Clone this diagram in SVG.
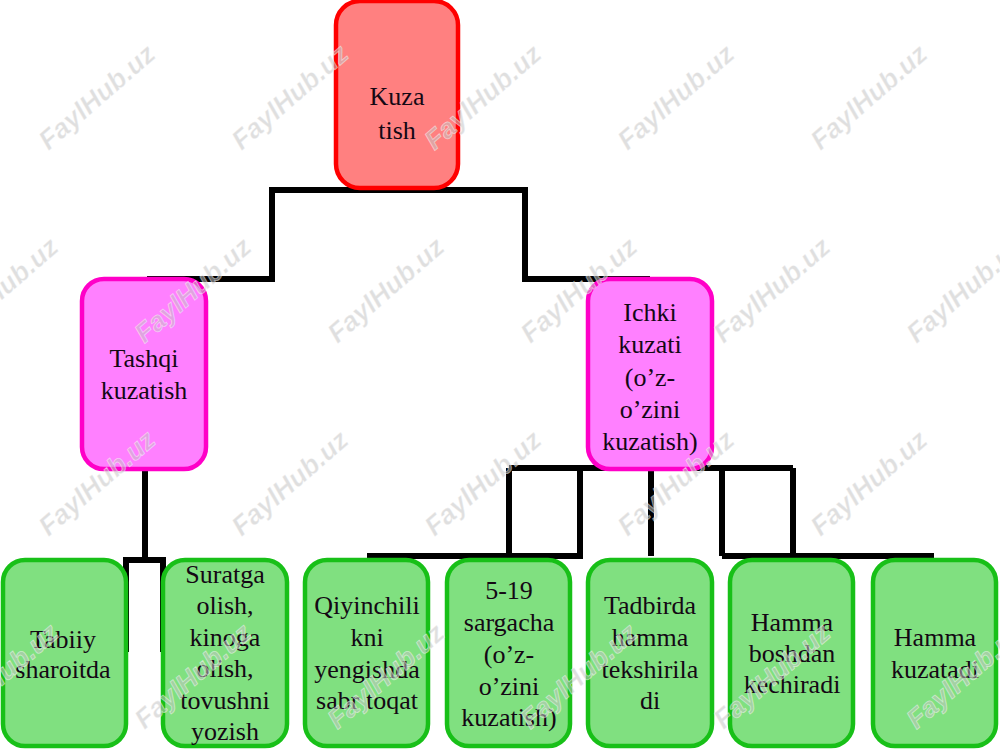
<svg xmlns="http://www.w3.org/2000/svg" width="1000" height="750" viewBox="0 0 1000 750">
<style>
.node rect{stroke-width:4.5}
.red rect{fill:#ff8080;stroke:#ff0000}
.pink rect{fill:#ff80ff;stroke:#ff00c8}
.green rect{fill:#80e080;stroke:#18c018}
.node text{font-family:"Liberation Serif","Times New Roman",serif;font-size:26px;fill:#140814;text-anchor:middle}
.conn path{fill:none;stroke:#000;stroke-width:6;stroke-linejoin:miter;stroke-linecap:butt}
.wm text{font-family:"Liberation Sans",Arial,sans-serif;font-weight:bold;font-style:italic;font-size:27px;fill:#c4c4c4;fill-opacity:0.55;stroke:#ffffff;stroke-opacity:0.5;stroke-width:0.8;text-anchor:middle;dominant-baseline:central}
</style>
<rect width="1000" height="750" fill="#ffffff"/>
<g id="connectors" class="conn">
<path d="M147,279 H272 V190 H525 V279 H650"/>
<path d="M145,470 V560"/>
<path d="M126,652 V560 H163 V652"/>
<path d="M509,468 H793"/>
<path d="M509,468 V556"/>
<path d="M580,468 V556"/>
<path d="M651,468 V556"/>
<path d="M722,468 V556"/>
<path d="M793,468 V556"/>
<path d="M367,556 H583"/>
<path d="M722,556 H934"/>
</g>
<g id="n-kuzatish" class="node red">
<rect x="336" y="1" width="122" height="187" rx="24"/>
<text x="397" y="105">Kuza</text>
<text x="397" y="139">tish</text>
</g>
<g id="n-tashqi" class="node pink">
<rect x="82" y="279" width="124" height="190" rx="22"/>
<text x="144" y="367">Tashqi</text>
<text x="144" y="399">kuzatish</text>
</g>
<g id="n-ichki" class="node pink">
<rect x="588" y="279" width="124" height="190" rx="22"/>
<text x="650" y="321">Ichki</text>
<text x="650" y="353">kuzati</text>
<text x="650" y="386">(o’z-</text>
<text x="650" y="418">o’zini</text>
<text x="650" y="450">kuzatish)</text>
</g>
<g id="n-tabiiy" class="node green">
<rect x="3" y="560" width="123" height="186" rx="22"/>
<text x="63" y="648">Tabiiy</text>
<text x="63" y="678">sharoitda</text>
</g>
<g id="n-suratga" class="node green">
<rect x="163" y="560" width="124" height="186" rx="22"/>
<text x="225" y="583">Suratga</text>
<text x="225" y="614">olish,</text>
<text x="225" y="646">kinoga</text>
<text x="225" y="677">olish,</text>
<text x="225" y="709">tovushni</text>
<text x="225" y="740">yozish</text>
</g>
<g id="n-qiyin" class="node green">
<rect x="305" y="560" width="123" height="186" rx="22"/>
<text x="367" y="614">Qiyinchili</text>
<text x="367" y="646">kni</text>
<text x="367" y="678">yengishda</text>
<text x="367" y="709">sabr toqat</text>
</g>
<g id="n-519" class="node green">
<rect x="447" y="560" width="123" height="186" rx="22"/>
<text x="509" y="599">5-19</text>
<text x="509" y="631">sargacha</text>
<text x="509" y="663">(o’z-</text>
<text x="509" y="695">o’zini</text>
<text x="509" y="726">kuzatish)</text>
</g>
<g id="n-tadbir" class="node green">
<rect x="588" y="560" width="124" height="186" rx="22"/>
<text x="650" y="614">Tadbirda</text>
<text x="650" y="646">hamma</text>
<text x="650" y="678">tekshirila</text>
<text x="650" y="709">di</text>
</g>
<g id="n-boshdan" class="node green">
<rect x="730" y="560" width="123" height="186" rx="22"/>
<text x="792" y="631">Hamma</text>
<text x="792" y="662">boshdan</text>
<text x="792" y="693">kechiradi</text>
</g>
<g id="n-kuzatadi" class="node green">
<rect x="873" y="560" width="123" height="186" rx="22"/>
<text x="935" y="646">Hamma</text>
<text x="935" y="678">kuzatadi</text>
</g>
<g id="watermarks" class="wm">
<text transform="translate(97,97) rotate(-41)">FaylHub.uz</text>
<text transform="translate(290,97) rotate(-41)">FaylHub.uz</text>
<text transform="translate(483,97) rotate(-41)">FaylHub.uz</text>
<text transform="translate(676,97) rotate(-41)">FaylHub.uz</text>
<text transform="translate(869,97) rotate(-41)">FaylHub.uz</text>
<text transform="translate(0,290) rotate(-41)">FaylHub.uz</text>
<text transform="translate(193,290) rotate(-41)">FaylHub.uz</text>
<text transform="translate(386,290) rotate(-41)">FaylHub.uz</text>
<text transform="translate(579,290) rotate(-41)">FaylHub.uz</text>
<text transform="translate(772,290) rotate(-41)">FaylHub.uz</text>
<text transform="translate(965,290) rotate(-41)">FaylHub.uz</text>
<text transform="translate(97,483) rotate(-41)">FaylHub.uz</text>
<text transform="translate(290,483) rotate(-41)">FaylHub.uz</text>
<text transform="translate(483,483) rotate(-41)">FaylHub.uz</text>
<text transform="translate(676,483) rotate(-41)">FaylHub.uz</text>
<text transform="translate(869,483) rotate(-41)">FaylHub.uz</text>
<text transform="translate(0,676) rotate(-41)">FaylHub.uz</text>
<text transform="translate(193,676) rotate(-41)">FaylHub.uz</text>
<text transform="translate(386,676) rotate(-41)">FaylHub.uz</text>
<text transform="translate(579,676) rotate(-41)">FaylHub.uz</text>
<text transform="translate(772,676) rotate(-41)">FaylHub.uz</text>
<text transform="translate(965,676) rotate(-41)">FaylHub.uz</text>
</g>
</svg>
